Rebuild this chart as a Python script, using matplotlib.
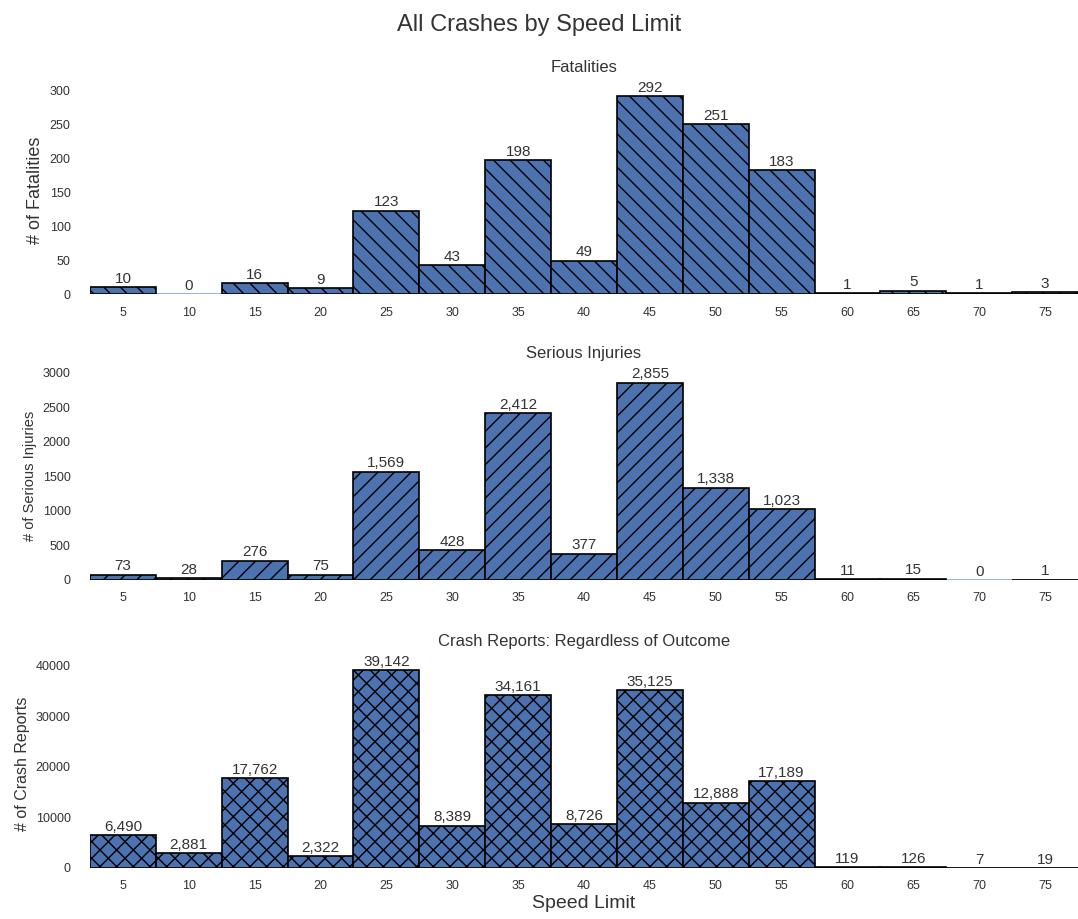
import matplotlib.pyplot as plt
import seaborn as sns

speed_limits = [5, 10, 15, 20, 25, 30, 35, 40, 45, 50, 55, 60, 65, 70, 75]
fatalities = [10, 0, 16, 9, 123, 43, 198, 49, 292, 251, 183, 1, 5, 1, 3]
serious_injuries = [73, 28, 276, 75, 1569, 428, 2412, 377, 2855, 1338, 1023, 11, 15, 0, 1]
crash_reports = [6490, 2881, 17762, 2322, 39142, 8389, 34161, 8726, 35125, 12888, 17189, 119, 126, 7, 19]

fat_ticks = [0, 50, 100, 150, 200, 250, 300]
inj_ticks = [0, 500, 1000, 1500, 2000, 2500, 3000]
crash_ticks = [0, 10000, 20000, 30000, 40000]

sns.set_style("white")
plt.rcParams['font.family'] = ['Liberation Sans', 'DejaVu Sans']
plt.rcParams['hatch.linewidth'] = 1.0

fig = plt.figure(figsize=(10.78, 9.19), dpi=100)

panels = [
    (fatalities, fat_ticks, "Fatalities", "# of Fatalities", 13, "\\\\", 0.680),
    (serious_injuries, inj_ticks, "Serious Injuries", "# of Serious Injuries", 10.5, "//", 0.369),
    (crash_reports, crash_ticks, "Crash Reports: Regardless of Outcome", "# of Crash Reports", 11.5, "xx", 0.0555),
]

x = list(range(len(speed_limits)))
for values, yticks, title, ylabel, ysize, hatch, bottom in panels:
    ax = fig.add_axes([0.0835, bottom, 0.9165, 0.226])
    ax.axhline(0, color="#9fb6dc", linewidth=1.5, zorder=0.5)
    bars = ax.bar(x, values, width=1.0, color="#4c72b0", edgecolor="black",
                  linewidth=1.2, hatch=hatch)
    for b, v in zip(bars, values):
        if v == 0:
            b.set_linewidth(0)
        ax.annotate(f"{v:,}", (b.get_x() + b.get_width() / 2, v),
                    xytext=(0, 1), textcoords="offset points",
                    ha="center", va="bottom", fontsize=11, color="#333333")
    ax.set_xlim(-0.5, len(x) - 0.5)
    ax.set_ylim(0, max(max(values) * 1.05, yticks[-1] * 1.003))
    ax.set_xticks(x)
    ax.set_xticklabels([str(s) for s in speed_limits])
    ax.set_yticks(yticks)
    ax.tick_params(axis="both", labelsize=9, colors="#333333", length=0)
    ax.tick_params(axis="x", pad=9)
    ax.tick_params(axis="y", pad=14)
    ax.set_title(title, fontsize=12, color="#333333", pad=10)
    ax.set_ylabel(ylabel, fontsize=ysize, color="#333333", labelpad=4)
    for sp in ax.spines.values():
        sp.set_visible(False)

ax.set_xlabel("Speed Limit", fontsize=14, color="#333333", labelpad=2)
fig.suptitle("All Crashes by Speed Limit", fontsize=17, color="#333333", y=0.985)

fig.savefig("out.png", dpi=100)
